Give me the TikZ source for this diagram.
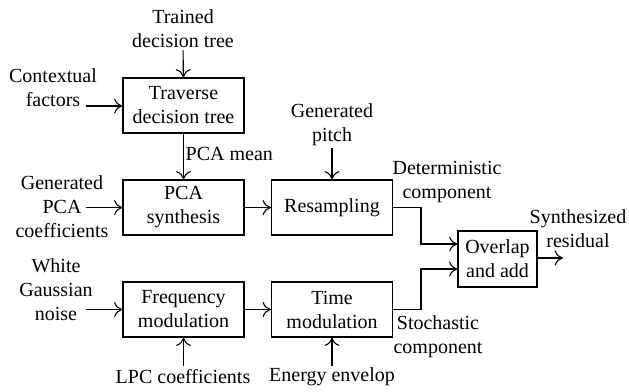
\documentclass[tikz,border=0pt]{standalone}
\usepackage{fontspec}
\setmainfont{LiberationSerif}[Extension=.ttf, UprightFont=*-Regular, BoldFont=*-Bold]
\usetikzlibrary{arrows.meta,positioning,calc}

\begin{document}
\begin{tikzpicture}[x=0.6pt, y=-0.6pt, font=\fontsize{12}{14.4}\selectfont,
    line width=0.65pt, >={To[length=5pt,width=9pt]},
    block/.style={draw, align=center, minimum width=72.6pt, minimum height=33pt, inner sep=1pt},
    lbl/.style={align=center, inner sep=1pt}]
  \useasboundingbox (0,0) rectangle (629,391);

  % processing blocks
  \node[block] (trav) at (183.5, 105.5) {Traverse\\decision tree};
  \node[block] (pcas) at (183.5, 207.5) {PCA\\synthesis};
  \node[block] (resamp) at (332, 207.5) {Resampling};
  \node[block] (freq) at (183.5, 309.5) {Frequency\\modulation};
  \node[block] (timem) at (332, 309.5) {Time\\modulation};
  \node[block, minimum width=47.4pt, minimum height=33.6pt] (ola) at (497.5, 259) {Overlap\\and add};

  % inputs and outputs
  \node[lbl] (trained) at (183, 29) {Trained\\decision tree};
  \node[lbl] (ctx) at (53, 88) {Contextual\\factors};
  \node[lbl] (gpca) at (62, 207) {Generated\\PCA\\coefficients};
  \node[lbl] (wgn) at (56, 290) {White\\Gaussian\\noise};
  \node[lbl] (gpitch) at (332, 125) {Generated\\pitch};
  \node[lbl] (lpc) at (183, 377) {LPC coefficients};
  \node[lbl] (energy) at (332, 377) {Energy envelop};
  \node[lbl] (det) at (447, 182) {Deterministic\\component};
  \node[lbl] (stoch) at (438, 337) {Stochastic\\component};
  \node[lbl] (synres) at (578, 229) {Synthesized\\residual};

  \coordinate (ctxout) at (86, 106);
  \coordinate (gpcaout) at (86, 207.5);
  \coordinate (wgnout) at (86, 309.5);
  \coordinate (lpcout) at (183.5, 366);
  \coordinate (energyout) at (332, 366);
  \coordinate (resout) at (563, 258);
  \coordinate (detbend) at (421, 244);
  \coordinate (stochbend) at (421, 269);

  \draw[->] (trained) -- (trav);
  \draw[->] (ctxout) -- (ctxout -| trav.west);
  \draw[->] (trav) -- node[right, lbl, pos=0.45] {PCA mean} (pcas);
  \draw[->] (gpcaout) -- (pcas.west);
  \draw[->] (pcas) -- (resamp);
  \draw[->] (gpitch) -- (resamp);
  \draw[->] (wgnout) -- (freq.west);
  \draw[->] (freq) -- (timem);
  \draw[->] (lpcout) -- (freq);
  \draw[->] (energyout) -- (timem);
  \draw[->] (resamp.east) -| (detbend) -- (detbend -| ola.west);
  \draw[->] (timem.east) -| (stochbend) -- (stochbend -| ola.west);
  \draw[->] (ola.east |- resout) -- (resout);
\end{tikzpicture}
\end{document}
